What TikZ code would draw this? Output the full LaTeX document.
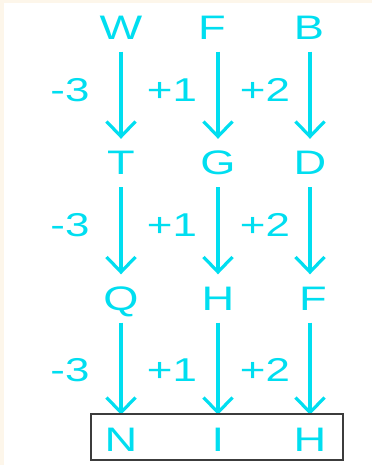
\documentclass[tikz,border=0pt]{standalone}
\usepackage{fontspec}
\setmainfont{Liberation Sans}[FakeStretch=1.33]
\usetikzlibrary{arrows.meta}
\definecolor{cy}{RGB}{0,222,240}
\definecolor{cream}{RGB}{253,246,234}
\definecolor{boxc}{RGB}{60,60,60}
\begin{document}
\begin{tikzpicture}[x=1pt,y=-1pt,
  letter/.style={text=cy,font=\fontsize{34}{34}\selectfont,text height=24pt,text depth=0pt,inner xsep=2pt,inner ysep=12pt},
  lab/.style={text=cy,font=\fontsize{33}{33}\selectfont,inner sep=0pt},
  arr/.style={draw=cy,line width=3.2pt,-{Straight Barb[length=15pt,width=29pt,line width=3.2pt]}}]
\fill[cream] (0,0) rectangle (372,465);
\fill[white] (4,3) rectangle (372,465);
\useasboundingbox (0,0) rectangle (372,465);
% letters
\node[letter] (W) at (121,27.5) {W};
\node[letter] (F1) at (212,27.5) {F};
\node[letter] (B) at (309,27.5) {B};
\node[letter] (T) at (121,163) {T};
\node[letter] (G) at (218,163) {G};
\node[letter] (D) at (310,163) {D};
\node[letter] (Q) at (121,298.5) {Q};
\node[letter] (H1) at (218,298.5) {H};
\node[letter] (F2) at (313,298.5) {F};
\node[letter] (N) at (121,439) {N};
\node[letter] (I) at (218,439) {I};
\node[letter] (H2) at (310,439) {H};
% arrows
\draw[arr] (T.north |- W.south) -- (T.north);
\draw[arr] (G.north |- F1.south) -- (G.north);
\draw[arr] (D.north |- B.south) -- (D.north);
\draw[arr] (Q.north |- T.south) -- (Q.north);
\draw[arr] (H1.north |- G.south) -- (H1.north);
\draw[arr] (D.north |- D.south) -- (D.north |- F2.north);
\draw[arr] (N.north |- Q.south) -- (N.north);
\draw[arr] (I.north |- H1.south) -- (I.north);
\draw[arr] (H2.north |- F2.south) -- (H2.north);
% labels
\foreach \y/\r in {90/a,225/b,370/c}{
  \node[lab] (m\r) at (70,\y) {-3};
  \node[lab] (p\r) at (172,\y) {+1};
  \node[lab] (q\r) at (265,\y) {+2};
}
% answer box
\node[draw=boxc,line width=1.4pt,minimum width=252pt,minimum height=46pt,inner sep=0pt] (box) at (217,437) {};
\end{tikzpicture}
\end{document}
